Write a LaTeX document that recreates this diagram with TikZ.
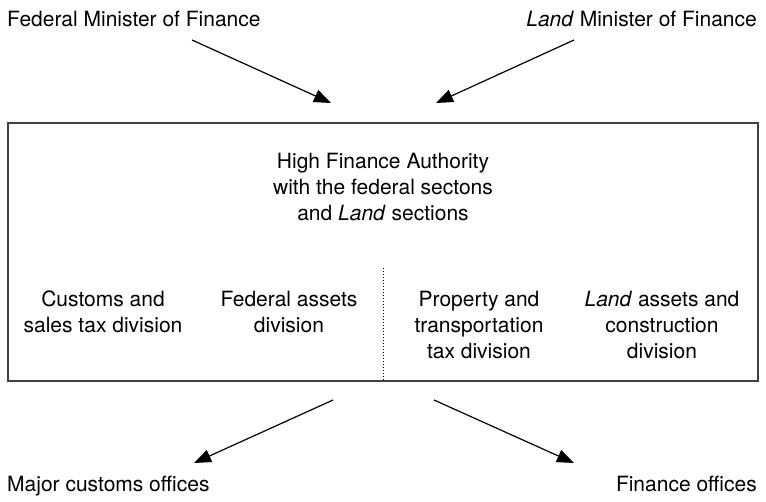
\documentclass[tikz,border=0pt]{standalone}
\usepackage{fontspec}
\setmainfont{TeX Gyre Heros}
\usetikzlibrary{arrows.meta,positioning}

\tikzset{
  lbl/.style={inner sep=0pt, font=\fontsize{21}{26}\selectfont},
  division/.style={lbl, align=center, anchor=north},
  flow/.style={line width=1.2pt, -{Triangle[length=17pt,width=13pt]}},
}

\begin{document}
\begin{tikzpicture}[x=1pt,y=-1pt]
  \useasboundingbox (0,0) rectangle (766,501);

  % ministers on top
  \node[lbl,anchor=base west] (fedmin) at (7,26) {Federal Minister of Finance};
  \node[lbl,anchor=base east] (landmin) at (757,26) {\textit{Land} Minister of Finance};

  % the authority
  \node[draw, line width=1.5pt, black!75, minimum width=750pt, minimum height=258pt, inner sep=0pt] (hfa) at (383,252) {};
  \node[division] (hfatext) at (383,153) {High Finance Authority\\with the federal sectons\\and \textit{Land} sections};

  \node[division] (customs) at (103,291) {Customs and\\sales tax division};
  \node[division] (fedassets) at (289,291) {Federal assets\\division};
  \node[division] (property) at (479,291) {Property and\\transportation\\tax division};
  \node[division] (landassets) at (662,291) {\textit{Land} assets and\\construction\\division};

  \coordinate (split) at (383,268);
  \draw[dotted, line width=1pt] (split) -- (hfa.south);

  % offices below
  \node[lbl,anchor=base west] (customsoff) at (7,491) {Major customs offices};
  \node[lbl,anchor=base east] (financeoff) at (757,491) {Finance offices};

  \coordinate (fedtail) at (192,40);
  \coordinate (fedtip) at (331,103);
  \coordinate (landtail) at (574,40);
  \coordinate (landtip) at (436,103);
  \coordinate (custtail) at (333,400);
  \coordinate (custtip) at (194,463);
  \coordinate (fintail) at (434,400);
  \coordinate (fintip) at (574,463);

  \draw[flow] (fedtail) -- (fedtip);
  \draw[flow] (landtail) -- (landtip);
  \draw[flow] (custtail) -- (custtip);
  \draw[flow] (fintail) -- (fintip);
\end{tikzpicture}
\end{document}
